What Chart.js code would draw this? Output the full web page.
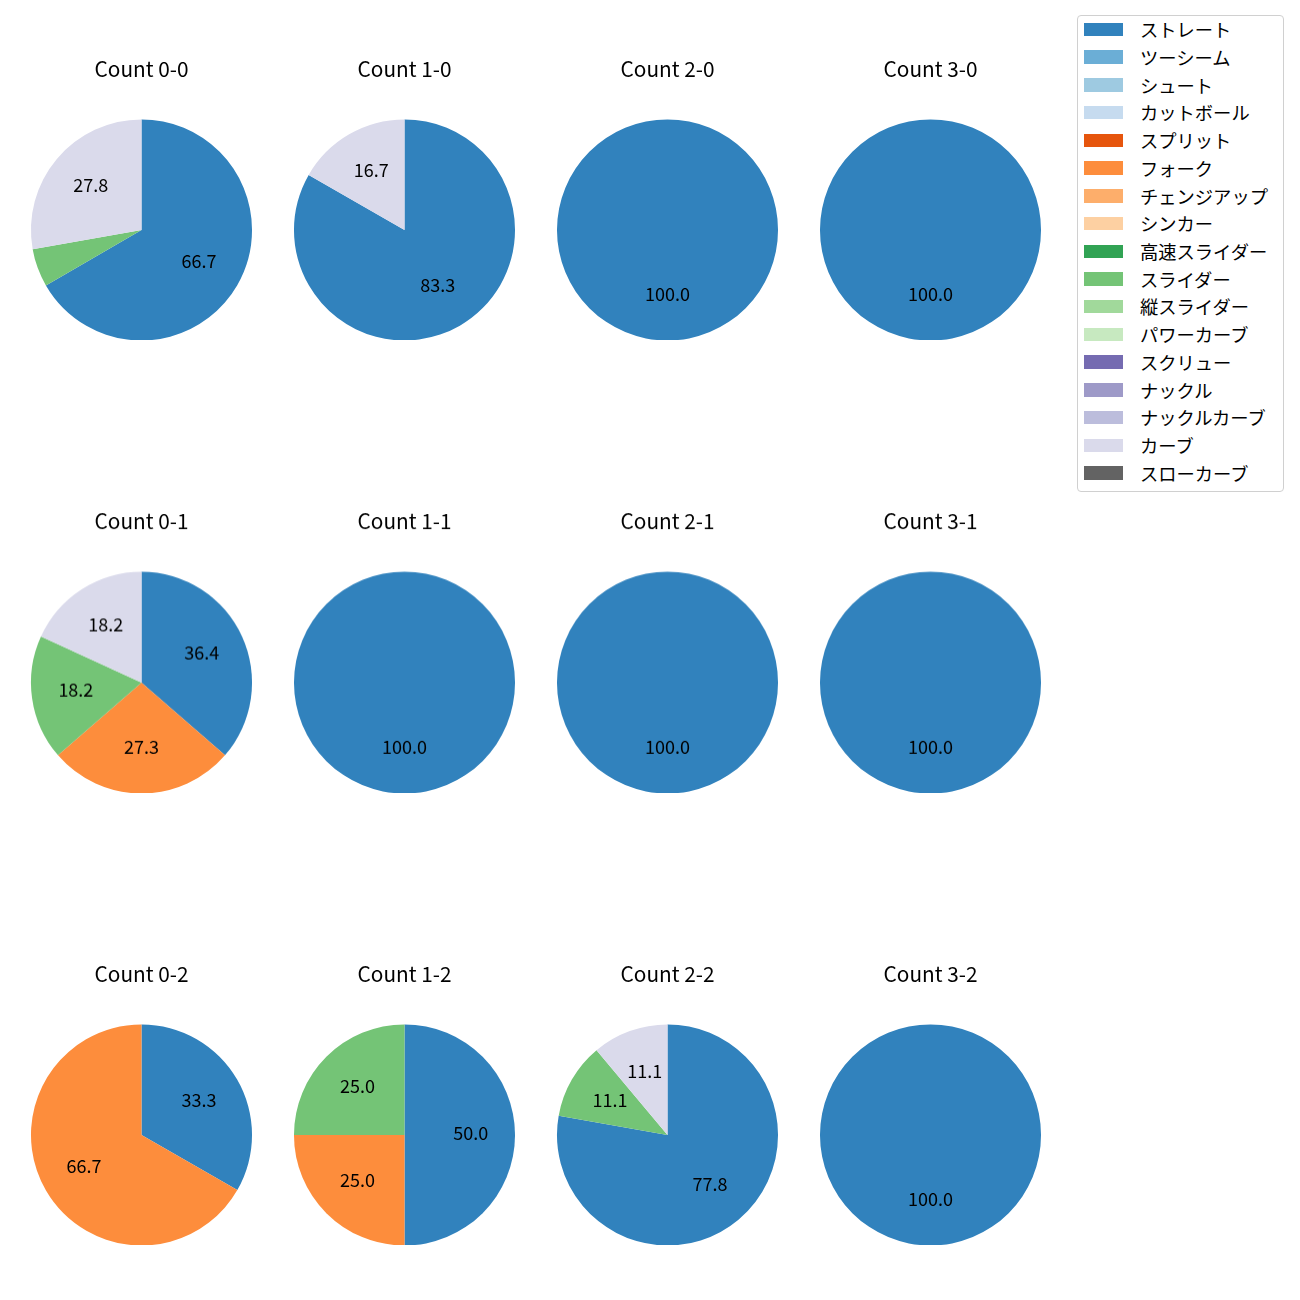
<!DOCTYPE html>
<html><head><meta charset="utf-8">
<script src="https://cdn.jsdelivr.net/npm/chart.js@4"></script>
<style>
body{margin:0;background:#fff;width:1300px;height:1300px;position:relative;overflow:hidden;font-family:"Noto Sans CJK JP","Noto Sans",sans-serif;}
.pie{position:absolute;width:263px;height:283.5px;}
#legend{position:absolute;left:1077px;top:15px;width:205px;height:475px;border:1px solid #d0d0d0;border-radius:4px;background:#fff;}
.li{position:absolute;left:0;height:20px;}
.sw{position:absolute;left:6px;top:3.5px;width:39px;height:13.5px;}
.lt{position:absolute;left:62px;top:0;line-height:20px;font-size:18.3px;color:#000;white-space:nowrap;}
</style></head><body>
<div id="legend"></div>
<script>
const pitchTypes = ["ストレート","ツーシーム","シュート","カットボール","スプリット","フォーク","チェンジアップ","シンカー","高速スライダー","スライダー","縦スライダー","パワーカーブ","スクリュー","ナックル","ナックルカーブ","カーブ","スローカーブ"];
const pitchColors = ["#3182bd","#6baed6","#9ecae1","#c6dbef","#e6550d","#fd8d3c","#fdae6b","#fdd0a2","#31a354","#74c476","#a1d99b","#c7e9c0","#756bb1","#9e9ac8","#bcbddc","#dadaeb","#636363"];
const countTitles = ["Count 0-0","Count 1-0","Count 2-0","Count 3-0","Count 0-1","Count 1-1","Count 2-1","Count 3-1","Count 0-2","Count 1-2","Count 2-2","Count 3-2"];
//                 St    2S Sh Ct Sp Fk    Ch Si HS Sl    VS PC Sc Kn KC Cv    SC
const count00 = [66.7,  0, 0, 0, 0, 0,    0, 0, 0, 5.6,  0, 0, 0, 0, 0, 27.8, 0];
const count10 = [83.3,  0, 0, 0, 0, 0,    0, 0, 0, 0,    0, 0, 0, 0, 0, 16.7, 0];
const count20 = [100.0, 0, 0, 0, 0, 0,    0, 0, 0, 0,    0, 0, 0, 0, 0, 0,    0];
const count30 = [100.0, 0, 0, 0, 0, 0,    0, 0, 0, 0,    0, 0, 0, 0, 0, 0,    0];
const count01 = [36.4,  0, 0, 0, 0, 27.3, 0, 0, 0, 18.2, 0, 0, 0, 0, 0, 18.2, 0];
const count11 = [100.0, 0, 0, 0, 0, 0,    0, 0, 0, 0,    0, 0, 0, 0, 0, 0,    0];
const count21 = [100.0, 0, 0, 0, 0, 0,    0, 0, 0, 0,    0, 0, 0, 0, 0, 0,    0];
const count31 = [100.0, 0, 0, 0, 0, 0,    0, 0, 0, 0,    0, 0, 0, 0, 0, 0,    0];
const count02 = [33.3,  0, 0, 0, 0, 66.7, 0, 0, 0, 0,    0, 0, 0, 0, 0, 0,    0];
const count12 = [50.0,  0, 0, 0, 0, 25.0, 0, 0, 0, 25.0, 0, 0, 0, 0, 0, 0,    0];
const count22 = [77.8,  0, 0, 0, 0, 0,    0, 0, 0, 11.1, 0, 0, 0, 0, 0, 11.1, 0];
const count32 = [100.0, 0, 0, 0, 0, 0,    0, 0, 0, 0,    0, 0, 0, 0, 0, 0,    0];
const countData = [count00,count10,count20,count30,count01,count11,count21,count31,count02,count12,count22,count32];

const FONT = '"Noto Sans CJK JP","Noto Sans",sans-serif';
const colCenters = [141.5, 404.5, 667.5, 930.5];
const rowTitleY = [69, 521.5, 974];

const pctLabels = {
  id:'pctLabels',
  afterDatasetsDraw(chart){
    const ctx = chart.ctx;
    const meta = chart.getDatasetMeta(0);
    const data = chart.data.datasets[0].data;
    ctx.save();
    ctx.font = '18px ' + FONT;
    ctx.fillStyle = '#000';
    ctx.textAlign = 'center';
    ctx.textBaseline = 'middle';
    meta.data.forEach((arc, i) => {
      const v = data[i];
      if (!v || v < 10) return;
      const p = arc.getProps(['x','y','startAngle','endAngle','outerRadius'], true);
      const mid = (p.startAngle + p.endAngle) / 2;
      const r = p.outerRadius * 0.6;
      ctx.fillText(v.toFixed(1), p.x + Math.cos(mid) * r, p.y + Math.sin(mid) * r - 2);
    });
    ctx.restore();
  }
};

countData.forEach((vals, k) => {
  const col = k % 4, row = Math.floor(k / 4);
  const div = document.createElement('div');
  div.className = 'pie';
  div.style.left = (colCenters[col] - 131.5) + 'px';
  div.style.top = (rowTitleY[row] - 12.5) + 'px';
  const cv = document.createElement('canvas');
  div.appendChild(cv);
  document.body.appendChild(div);
  new Chart(cv, {
    type: 'pie',
    data: { labels: pitchTypes, datasets: [{ data: vals, backgroundColor: pitchColors, borderWidth: 0, hoverOffset: 0 }] },
    options: {
      responsive: true, maintainAspectRatio: false, animation: false,
      layout: { padding: 0 },
      plugins: {
        legend: { display: false },
        tooltip: { enabled: false },
        title: { display: true, text: countTitles[k], color: '#000', font: { family: FONT, size: 20.8, weight: 'normal', lineHeight: 1.2 }, padding: { top: 0, bottom: 37.5 } }
      }
    },
    plugins: [pctLabels]
  });
});

const legend = document.getElementById('legend');
pitchTypes.forEach((name, i) => {
  const li = document.createElement('div');
  li.className = 'li';
  li.style.top = (3.25 + i * 27.72) + 'px';
  const sw = document.createElement('div');
  sw.className = 'sw';
  sw.style.background = pitchColors[i];
  const t = document.createElement('div');
  t.className = 'lt';
  t.textContent = name;
  li.appendChild(sw); li.appendChild(t);
  legend.appendChild(li);
});
</script>
</body></html>
